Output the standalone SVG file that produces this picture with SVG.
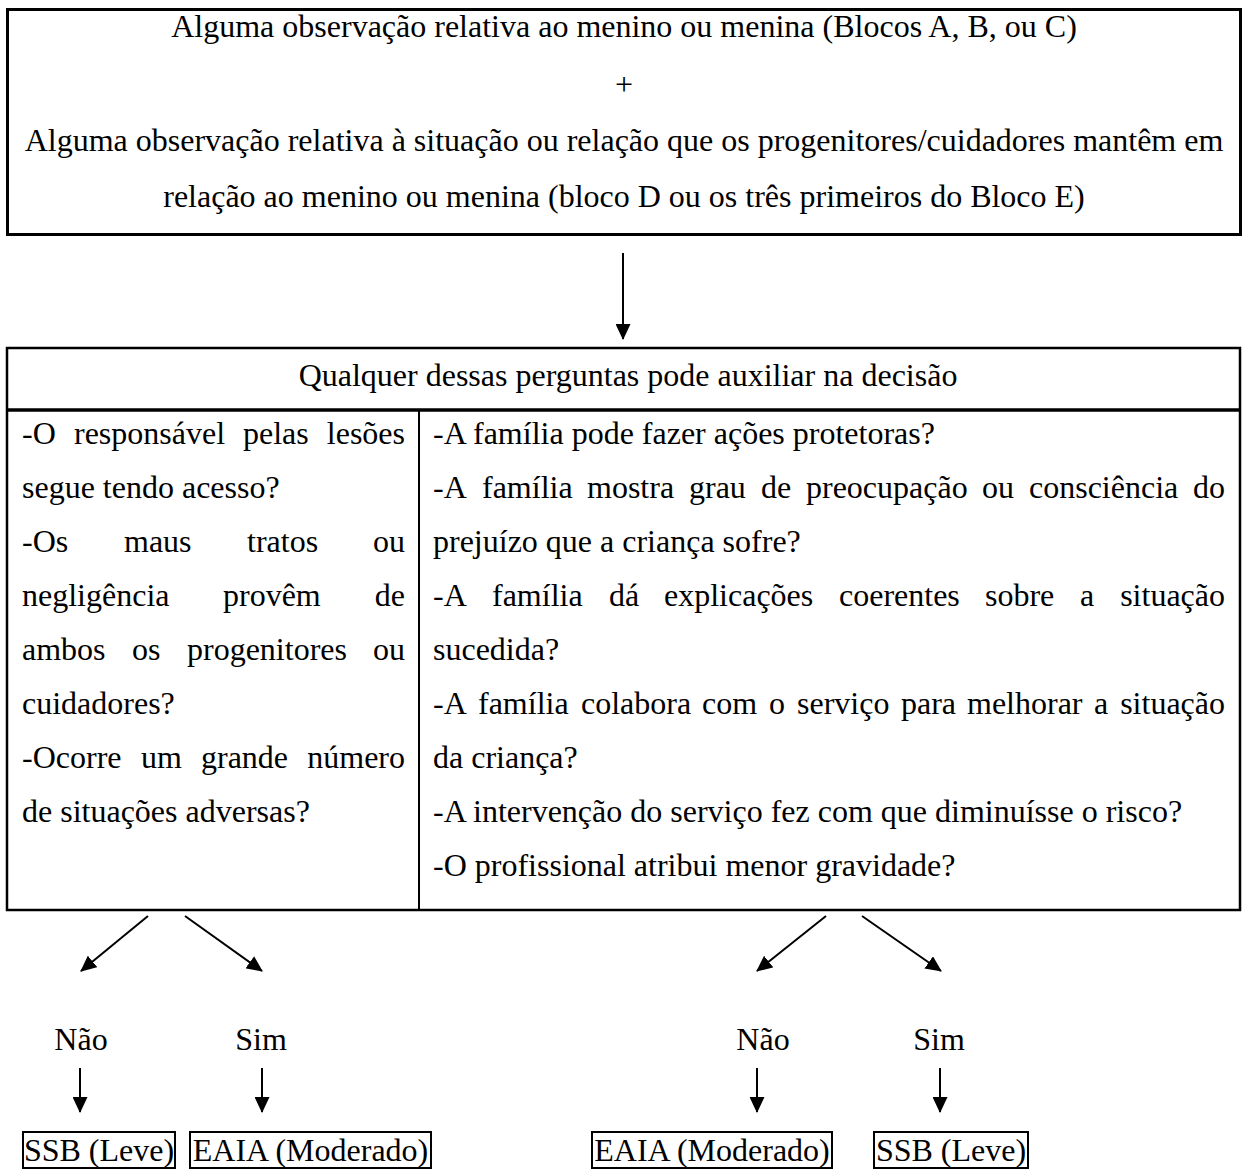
<svg xmlns="http://www.w3.org/2000/svg" width="1248" height="1169" viewBox="0 0 1248 1169">
<style>
text{font-family:"Liberation Serif","Times New Roman",serif;font-size:32px;fill:#000}
.c{text-anchor:middle}
.e{text-anchor:end}
.box{fill:none;stroke:#000}
.ln{stroke:#000;stroke-width:2;fill:none}
</style>
<defs>
<marker id="ah" viewBox="0 0 16 15" refX="15" refY="7.5" markerWidth="16" markerHeight="15" markerUnits="userSpaceOnUse" orient="auto">
<path d="M0,0 L16,7.5 L0,15 z" fill="#000"/>
</marker>
</defs>
<rect width="1248" height="1169" fill="#fff"/>

<g id="topBox">
<rect class="box" x="7.5" y="9.5" width="1233" height="225" stroke-width="3"/>
<text class="c" x="624" y="37">Alguma observação relativa ao menino ou menina (Blocos A, B, ou C)</text>
<text class="c" x="624" y="95">+</text>
<text class="c" x="624" y="151">Alguma observação relativa à situação ou relação que os progenitores/cuidadores mantêm em</text>
<text class="c" x="624" y="207">relação ao menino ou menina (bloco D ou os três primeiros do Bloco E)</text>
</g>

<g id="questionBox">
<rect class="box" x="7" y="348" width="1233" height="562" stroke-width="2.5"/>
<line x1="7" y1="410" x2="1240" y2="410" stroke="#000" stroke-width="3.5"/>
<line x1="419" y1="410" x2="419" y2="910" stroke="#000" stroke-width="2"/>
<text class="c" x="628" y="386">Qualquer dessas perguntas pode auxiliar na decisão</text>
<!-- left column -->
<text y="444"><tspan x="22">-O</tspan><tspan x="74">responsável</tspan><tspan x="243">pelas</tspan></text>
<text class="e" x="405" y="444">lesões</text>
<text x="22" y="498">segue tendo acesso?</text>
<text y="552"><tspan x="22">-Os</tspan><tspan x="124">maus</tspan><tspan x="247">tratos</tspan></text>
<text class="e" x="405" y="552">ou</text>
<text y="606"><tspan x="22">negligência</tspan><tspan x="223">provêm</tspan></text>
<text class="e" x="405" y="606">de</text>
<text y="660"><tspan x="22">ambos</tspan><tspan x="132">os</tspan><tspan x="187">progenitores</tspan></text>
<text class="e" x="405" y="660">ou</text>
<text x="22" y="714">cuidadores?</text>
<text y="768"><tspan x="22">-Ocorre</tspan><tspan x="141">um</tspan><tspan x="201">grande</tspan></text>
<text class="e" x="405" y="768">número</text>
<text x="22" y="822">de situações adversas?</text>
<!-- right column -->
<text x="433" y="444">-A família pode fazer ações protetoras?</text>
<text y="498"><tspan x="433">-A</tspan><tspan x="482">família</tspan><tspan x="587">mostra</tspan><tspan x="689">grau</tspan><tspan x="761">de</tspan><tspan x="806">preocupação</tspan><tspan x="982">ou</tspan><tspan x="1029">consciência</tspan></text>
<text class="e" x="1225" y="498">do</text>
<text x="433" y="552">prejuízo que a criança sofre?</text>
<text y="606"><tspan x="433">-A</tspan><tspan x="492">família</tspan><tspan x="609">dá</tspan><tspan x="664">explicações</tspan><tspan x="839">coerentes</tspan><tspan x="985">sobre</tspan><tspan x="1080">a</tspan></text>
<text class="e" x="1225" y="606">situação</text>
<text x="433" y="660">sucedida?</text>
<text y="714"><tspan x="433">-A</tspan><tspan x="478">família</tspan><tspan x="581">colabora</tspan><tspan x="702">com</tspan><tspan x="769">o</tspan><tspan x="797">serviço</tspan><tspan x="901">para</tspan><tspan x="967">melhorar</tspan><tspan x="1094">a</tspan></text>
<text class="e" x="1225" y="714">situação</text>
<text x="433" y="768">da criança?</text>
<text x="433" y="822">-A intervenção do serviço fez com que diminuísse o risco?</text>
<text x="433" y="876">-O profissional atribui menor gravidade?</text>
</g>

<g id="labelNao1"><text class="c" x="81" y="1050">Não</text></g>
<g id="labelSim1"><text class="c" x="261" y="1050">Sim</text></g>
<g id="labelNao2"><text class="c" x="763" y="1050">Não</text></g>
<g id="labelSim2"><text class="c" x="939" y="1050">Sim</text></g>

<g id="resultSSB1"><rect class="box" x="23" y="1132" width="152" height="36" stroke-width="2"/><text class="c" x="99" y="1161">SSB (Leve)</text></g>
<g id="resultEAIA1"><rect class="box" x="190" y="1132" width="241" height="36" stroke-width="2"/><text class="c" x="310.5" y="1161">EAIA (Moderado)</text></g>
<g id="resultEAIA2"><rect class="box" x="592" y="1132" width="240" height="36" stroke-width="2"/><text class="c" x="712" y="1161">EAIA (Moderado)</text></g>
<g id="resultSSB2"><rect class="box" x="874" y="1132" width="154" height="36" stroke-width="2"/><text class="c" x="951" y="1161">SSB (Leve)</text></g>

<g id="connectors" class="ln" marker-end="url(#ah)">
<line x1="623" y1="253" x2="623" y2="339"/>
<line x1="148" y1="916" x2="81" y2="971"/>
<line x1="185" y1="916" x2="262" y2="971"/>
<line x1="826" y1="916" x2="757" y2="971"/>
<line x1="862" y1="916" x2="941" y2="971"/>
<line x1="80" y1="1068" x2="80" y2="1112"/>
<line x1="262" y1="1068" x2="262" y2="1112"/>
<line x1="757" y1="1068" x2="757" y2="1112"/>
<line x1="940" y1="1068" x2="940" y2="1112"/>
</g>
</svg>
